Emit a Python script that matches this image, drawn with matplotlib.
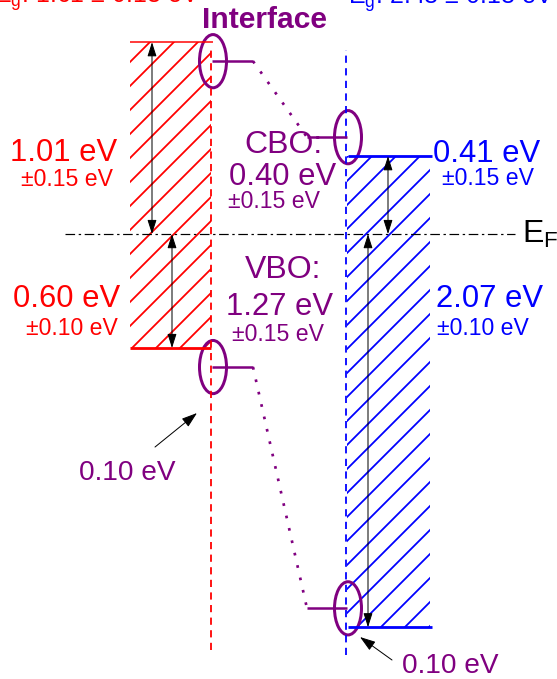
import matplotlib
matplotlib.use('Agg')
import matplotlib.pyplot as plt
from matplotlib.patches import Ellipse

# Band alignment values (eV, relative to the Fermi level)
CB_ABOVE_EF = [1.01, 0.41]      # left layer, right layer
VB_BELOW_EF = [0.60, 2.07]
CB_ERR = [0.15, 0.15]
VB_ERR = [0.10, 0.10]
BAND_GAP = [1.61, 2.48]
GAP_ERR = [0.18, 0.18]
BENDING = [0.10, 0.10]          # left bends down, right bends up at the interface
CBO, CBO_ERR = 0.40, 0.15
VBO, VBO_ERR = 1.27, 0.15

RED = '#ff0000'
BLUE = '#0000ff'
PURPLE = '#800080'

plt.rcParams['font.family'] = ['Liberation Sans', 'DejaVu Sans']
plt.rcParams['mathtext.fontset'] = 'custom'
plt.rcParams['mathtext.rm'] = 'Liberation Sans'
plt.rcParams['hatch.linewidth'] = 1.8

fig = plt.figure(figsize=(557 / 72, 679 / 72), dpi=72)
ax = fig.add_axes([0, 0, 1, 1])
ax.set_xlim(0, 557)
ax.set_ylim(-2.342, 1.232)
ax.axis('off')

# layout in x (schematic)
box_left = [130, 347]
box_width = [81, 83]
iface_x = [211, 346]
colors = [RED, BLUE]

# hatched band-gap boxes with solid band edges
for i in range(2):
    cb, vb = CB_ABOVE_EF[i], -VB_BELOW_EF[i]
    ax.bar(box_left[i], cb - vb, bottom=vb, width=box_width[i], align='edge',
           color='white', edgecolor=colors[i], hatch='/', linewidth=0)
ax.hlines(CB_ABOVE_EF[0], 130, 213, color=RED, lw=1.5)
ax.hlines(-VB_BELOW_EF[0], 130, 211, color=RED, lw=2.8)
ax.hlines(CB_ABOVE_EF[1], 348, 432, color=BLUE, lw=2.8)
ax.hlines(-VB_BELOW_EF[1], 348, 432, color=BLUE, lw=2.8)

# interface lines
ax.vlines(iface_x[0], -2.19, CB_ABOVE_EF[0] - 0.03, color=RED, lw=1.8,
          linestyles=(0, (4, 3)))
ax.vlines(iface_x[1], -2.216, 0.968, color=BLUE, lw=1.8,
          linestyles=(0, (4, 3)))

# Fermi level
ax.hlines(0, 65, 515, color='black', lw=1.2, linestyles=(0, (8, 3, 2, 3)))
ax.text(522, -0.047, r'E$_\mathrm{F}$', fontsize=32, color='black',
        ha='left', va='baseline')

# double arrows from E_F to the band edges
arrow = dict(arrowstyle='<|-|>,head_length=0.5,head_width=0.16',
             mutation_scale=24, color='black', lw=1, shrinkA=0, shrinkB=0)
for x, top, bottom in [(152, CB_ABOVE_EF[0], 0), (172, 0, -VB_BELOW_EF[0]),
                       (388, CB_ABOVE_EF[1], 0), (368, 0, -VB_BELOW_EF[1])]:
    ax.annotate('', xy=(x, bottom), xytext=(x, top), arrowprops=arrow)

# band bending at the interface
cb_iface = [CB_ABOVE_EF[0] - BENDING[0], CB_ABOVE_EF[1] + BENDING[1]]
vb_iface = [-VB_BELOW_EF[0] - BENDING[0], -VB_BELOW_EF[1] + BENDING[1]]
for levels in (cb_iface, vb_iface):
    ax.hlines(levels[0], 212, 253, color=PURPLE, lw=2.5)
    ax.hlines(levels[1], 307, 347, color=PURPLE, lw=2.5)
    ax.plot([253, 307], levels, color=PURPLE, lw=2.7, linestyle=(0, (1, 3.7)))
    ax.add_patch(Ellipse((213, levels[0]), 27, 0.28, fill=False,
                         edgecolor=PURPLE, lw=3))
    ax.add_patch(Ellipse((348, levels[1]), 27, 0.28, fill=False,
                         edgecolor=PURPLE, lw=3))

small = dict(ha='center', va='baseline', fontsize=23)
big = dict(ha='center', va='baseline', fontsize=31)

# left layer labels
ax.text(64, 0.384, f'{CB_ABOVE_EF[0]:.2f} eV', color=RED, **big)
ax.text(67, 0.254, f'±{CB_ERR[0]:.2f} eV', color=RED, **small)
ax.text(67, -0.384, f'{VB_BELOW_EF[0]:.2f} eV', color=RED, **big)
ax.text(72, -0.532, f'±{VB_ERR[0]:.2f} eV', color=RED, **small)

# right layer labels
ax.text(487, 0.379, f'{CB_ABOVE_EF[1]:.2f} eV', color=BLUE, **big)
ax.text(488, 0.258, f'±{CB_ERR[1]:.2f} eV', color=BLUE, **small)
ax.text(489, -0.384, f'{VB_BELOW_EF[1]:.2f} eV', color=BLUE, **big)
ax.text(483, -0.532, f'±{VB_ERR[1]:.2f} eV', color=BLUE, **small)

# band offsets
ax.text(283, 0.426, 'CBO:', color=PURPLE, ha='center', va='baseline', fontsize=32)
ax.text(283, 0.258, f'{CBO:.2f} eV', color=PURPLE, **big)
ax.text(274, 0.137, f'±{CBO_ERR:.2f} eV', color=PURPLE, **small)
ax.text(283, -0.232, 'VBO:', color=PURPLE, ha='center', va='baseline', fontsize=32)
ax.text(280, -0.426, f'{VBO:.2f} eV', color=PURPLE, **big)
ax.text(278, -0.563, f'±{VBO_ERR:.2f} eV', color=PURPLE, **small)

# band bending callouts
pointer = dict(arrowstyle='-|>,head_length=0.6,head_width=0.2',
               mutation_scale=22, color='black', lw=1, shrinkA=0, shrinkB=0)
ax.annotate('', xy=(197, -0.942), xytext=(155, -1.121), arrowprops=pointer)
ax.text(127, -1.295, f'{BENDING[0]:.2f} eV', color=PURPLE, ha='center',
        va='baseline', fontsize=28)
ax.annotate('', xy=(360, -2.121), xytext=(392, -2.242), arrowprops=pointer)
ax.text(450, -2.31, f'{BENDING[1]:.2f} eV', color=PURPLE, ha='center',
        va='baseline', fontsize=28)

# titles
ax.text(265, 1.084, 'Interface', color=PURPLE, fontsize=30,
        fontweight='bold', ha='center', va='baseline')
ax.text(-6, 1.215, rf'E$_\mathrm{{g}}$: {BAND_GAP[0]:.2f} ± {GAP_ERR[0]:.2f} eV',
        color=RED, fontsize=25, ha='left', va='baseline')
ax.text(348, 1.211, rf'E$_\mathrm{{g}}$: {BAND_GAP[1]:.2f} ± {GAP_ERR[1]:.2f} eV',
        color=BLUE, fontsize=25, ha='left', va='baseline')

fig.savefig('out.png', dpi=72)
